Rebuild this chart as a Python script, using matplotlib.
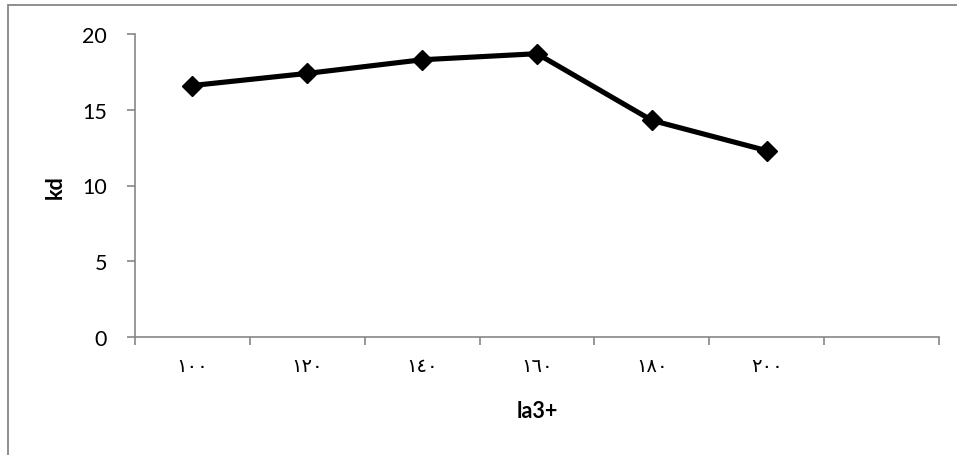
import matplotlib.pyplot as plt
from matplotlib.patches import Rectangle

# series values
categories = ['١٠٠', '١٢٠', '١٤٠', '١٦٠', '١٨٠', '٢٠٠']
kd = [16.6, 17.4, 18.3, 18.7, 14.3, 12.3]
n_slots = 7  # one empty category slot after the last point

axis_grey = '#868686'
tick_font = ['Lato', 'DejaVu Sans']

fig = plt.figure(figsize=(9.57, 4.56), dpi=100)
ax = fig.add_axes([135 / 957, 1 - 338 / 456, 804 / 957, 303 / 456])

x = list(range(len(categories)))
ax.plot(x, kd, color='black', linewidth=3.7, marker='D', markersize=10,
        markerfacecolor='black', markeredgecolor='black', solid_joinstyle='miter')

ax.set_xlim(-0.5, n_slots - 0.5)
ax.set_ylim(0, 20)
ax.set_yticks([0, 5, 10, 15, 20])

# category boundaries carry tick marks, labels sit between them
ax.set_xticks([i - 0.5 for i in range(n_slots + 1)])
ax.set_xticklabels([])
ax.set_xticks(x, minor=True)
ax.set_xticklabels(categories, minor=True, fontsize=14, family=['DejaVu Sans'])
ax.tick_params(axis='x', which='minor', length=0, pad=14)
ax.tick_params(axis='x', which='major', length=6, width=1.2, color=axis_grey)
ax.tick_params(axis='y', length=6, width=1.2, color=axis_grey, pad=14, labelsize=15.5)
for lab in ax.get_yticklabels():
    lab.set_family(tick_font)

for side in ['top', 'right']:
    ax.spines[side].set_visible(False)
for side in ['left', 'bottom']:
    ax.spines[side].set_color(axis_grey)
    ax.spines[side].set_linewidth(1.2)

fig.text(55 / 957, 1 - 187 / 456, 'kd', rotation=90, ha='center', va='center',
         fontsize=15.5, fontweight='bold', family=tick_font)
fig.text(537 / 957, 1 - 412 / 456, 'la3+', ha='center', va='center',
         fontsize=15.5, fontweight='bold', family=tick_font)

# chart area frame; right and bottom edges run past the canvas
frame = Rectangle((8, -20), 1000, 456 - 6 + 20, transform=None,
                  fill=False, edgecolor=axis_grey, linewidth=1.3, clip_on=False)
fig.add_artist(frame)

fig.savefig('out.png', dpi=100)
